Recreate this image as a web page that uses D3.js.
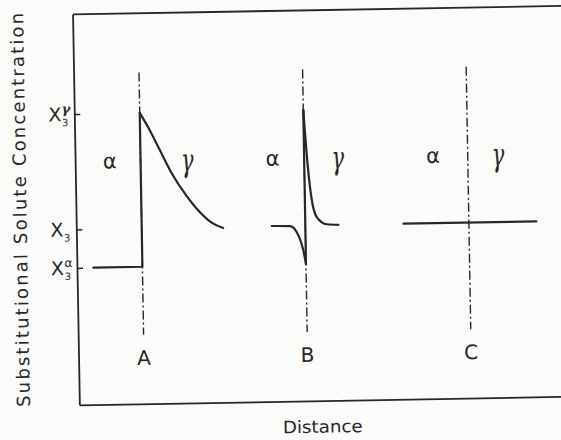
<!DOCTYPE html>
<html>
<head>
<meta charset="utf-8">
<script src="https://cdn.jsdelivr.net/npm/d3@7"></script>
<style>
  html, body { margin: 0; padding: 0; background: #fbfbf9; }
  svg { display: block; }
</style>
</head>
<body>
<svg id="chart" width="561" height="440"></svg>
<script>
// Interface positions (distance units) and their labels
const interfaceLabels = ["A", "B", "C"];
const interfacePos = [1.6, 5.6, 9.6];

// Concentration levels marked on the vertical axis
const yTickValues = [1, 2, 5];
const yTickSup = ["α", "", "γ"];

// Profile A: flat in alpha, jump at interface, decay into gamma
const aAlphaSide = [[0.4, 1], [1.6, 1], [1.6, 5]];
const aGammaSide = [[1.6, 5], [1.81, 4.60], [2.05, 4.08], [2.37, 3.39], [2.71, 2.82], [3.03, 2.39], [3.33, 2.10], [3.59, 1.97]];

// Profile B: depletion in alpha, sharp spike into gamma
const bAlphaSide = [[4.78, 2.0], [5.23, 1.99], [5.44, 1.71], [5.54, 1.36], [5.6, 1.0]];
const bJump = [[5.6, 1.0], [5.6, 5.0]];
const bGammaSide = [[5.6, 5.0], [5.68, 3.62], [5.76, 2.73], [5.88, 2.22], [6.13, 2.02], [6.41, 2.0]];

// Profile C: no partitioning
const cProfile = [[8.0, 2.0], [11.25, 2.0]];

// Phase label positions
const phaseLabels = [
  { t: "α", x: 0.85 }, { t: "γ", x: 2.74 },
  { t: "α", x: 4.83 }, { t: "γ", x: 6.42 },
  { t: "α", x: 8.75 }, { t: "γ", x: 10.34 }
];
const phaseLabelLevel = 3.75;

// Extent of the dash-dot interface markers
const markerTop = 6.05, markerBottom = -0.77;

const ink = "#272727";
const font = "'DejaVu Sans', sans-serif";

const svg = d3.select("#chart");
svg.append("rect").attr("width", 561).attr("height", 440).attr("fill", "#fbfbf9");

const g = svg.append("g").attr("transform", "rotate(-1,300,210)");

const x = d3.scaleLinear().domain([0, 12]).range([76, 566.8]);
const y = d3.scaleLinear().domain([-2.56, 7.6]).range([401, 10]);

// Frame: left axis with inward ticks, top and bottom edges
const yAxis = g.append("g").attr("transform", `translate(${x(0)},0)`)
  .call(d3.axisLeft(y).tickValues(yTickValues).tickSizeInner(-6).tickSizeOuter(0).tickFormat(""));
const xAxisB = g.append("g").attr("transform", `translate(0,${y(-2.56)})`)
  .call(d3.axisBottom(x).tickValues([]).tickSizeOuter(0));
const xAxisT = g.append("g").attr("transform", `translate(0,${y(7.6)})`)
  .call(d3.axisTop(x).tickValues([]).tickSizeOuter(0));
[yAxis, xAxisB, xAxisT].forEach(a => {
  a.select(".domain").attr("stroke", ink).attr("stroke-width", 1.8);
  a.selectAll(".tick line").attr("stroke", ink).attr("stroke-width", 1.5);
});

// Tick labels X3, with stacked super/subscripts
const tl = g.append("g").attr("fill", ink).attr("font-family", font);
yTickValues.forEach((v, i) => {
  const yy = y(v);
  tl.append("text").attr("x", 63).attr("y", yy + 7).attr("text-anchor", "end")
    .attr("font-size", 19).text("X");
  tl.append("text").attr("x", 63.5).attr("y", yy + 12).attr("font-size", 10).text("3");
  if (yTickSup[i]) {
    const isG = yTickSup[i] === "γ";
    tl.append("text").attr("x", 63.5).attr("y", yy - 1)
      .attr("font-size", isG ? 13 : 12)
      .attr("font-family", isG ? "'DejaVu Serif', serif" : font)
      .attr("font-style", isG ? "italic" : "normal")
      .attr("font-weight", isG ? "bold" : "normal")
      .text(yTickSup[i]);
  }
});

// Dash-dot interface markers
g.append("g").selectAll("line").data(interfacePos).join("line")
  .attr("x1", d => x(d)).attr("x2", d => x(d))
  .attr("y1", y(markerTop)).attr("y2", y(markerBottom))
  .attr("stroke", ink).attr("stroke-width", 1.4)
  .attr("stroke-dasharray", "9,3,2,3");

// Interface labels
g.append("g").selectAll("text").data(interfaceLabels).join("text")
  .attr("x", (d, i) => x(interfacePos[i])).attr("y", y(markerBottom) + 30)
  .attr("text-anchor", "middle").attr("font-family", font).attr("font-size", 20)
  .attr("fill", ink).text(d => d);

// Concentration profiles
const straight = d3.line().x(d => x(d[0])).y(d => y(d[1]));
const smooth = d3.line().x(d => x(d[0])).y(d => y(d[1])).curve(d3.curveMonotoneX);
const prof = g.append("g").attr("fill", "none").attr("stroke", ink)
  .attr("stroke-width", 2.2).attr("stroke-linejoin", "round").attr("stroke-linecap", "round");
prof.append("path").attr("d", straight(aAlphaSide));
prof.append("path").attr("d", smooth(aGammaSide));
prof.append("path").attr("d", smooth(bAlphaSide));
prof.append("path").attr("d", straight(bJump));
prof.append("path").attr("d", smooth(bGammaSide));
prof.append("path").attr("d", straight(cProfile));

// Phase labels (gamma drawn tall and narrow, script-like)
g.append("g").selectAll("text").data(phaseLabels).join("text")
  .attr("transform", d => d.t === "γ"
    ? `translate(${x(d.x)},${y(phaseLabelLevel)}) scale(0.8,1.25)`
    : `translate(${x(d.x)},${y(phaseLabelLevel)})`)
  .attr("text-anchor", "middle").attr("dominant-baseline", "central")
  .attr("fill", ink)
  .attr("font-family", d => d.t === "γ" ? "'DejaVu Serif', serif" : font)
  .attr("font-style", d => d.t === "γ" ? "italic" : "normal")
  .attr("font-size", d => d.t === "γ" ? 26 : 21)
  .text(d => d.t);

// Axis titles
g.append("text").attr("transform", "translate(20,205) rotate(-90)")
  .attr("text-anchor", "middle").attr("dominant-baseline", "central")
  .attr("font-family", font).attr("font-size", 18).attr("fill", ink)
  .attr("textLength", 394).attr("lengthAdjust", "spacing")
  .text("Substitutional Solute Concentration");
g.append("text").attr("x", 319).attr("y", 427).attr("text-anchor", "middle")
  .attr("dominant-baseline", "central")
  .attr("font-family", font).attr("font-size", 17).attr("fill", ink)
  .attr("textLength", 80).attr("lengthAdjust", "spacingAndGlyphs")
  .text("Distance");
</script>
</body>
</html>
